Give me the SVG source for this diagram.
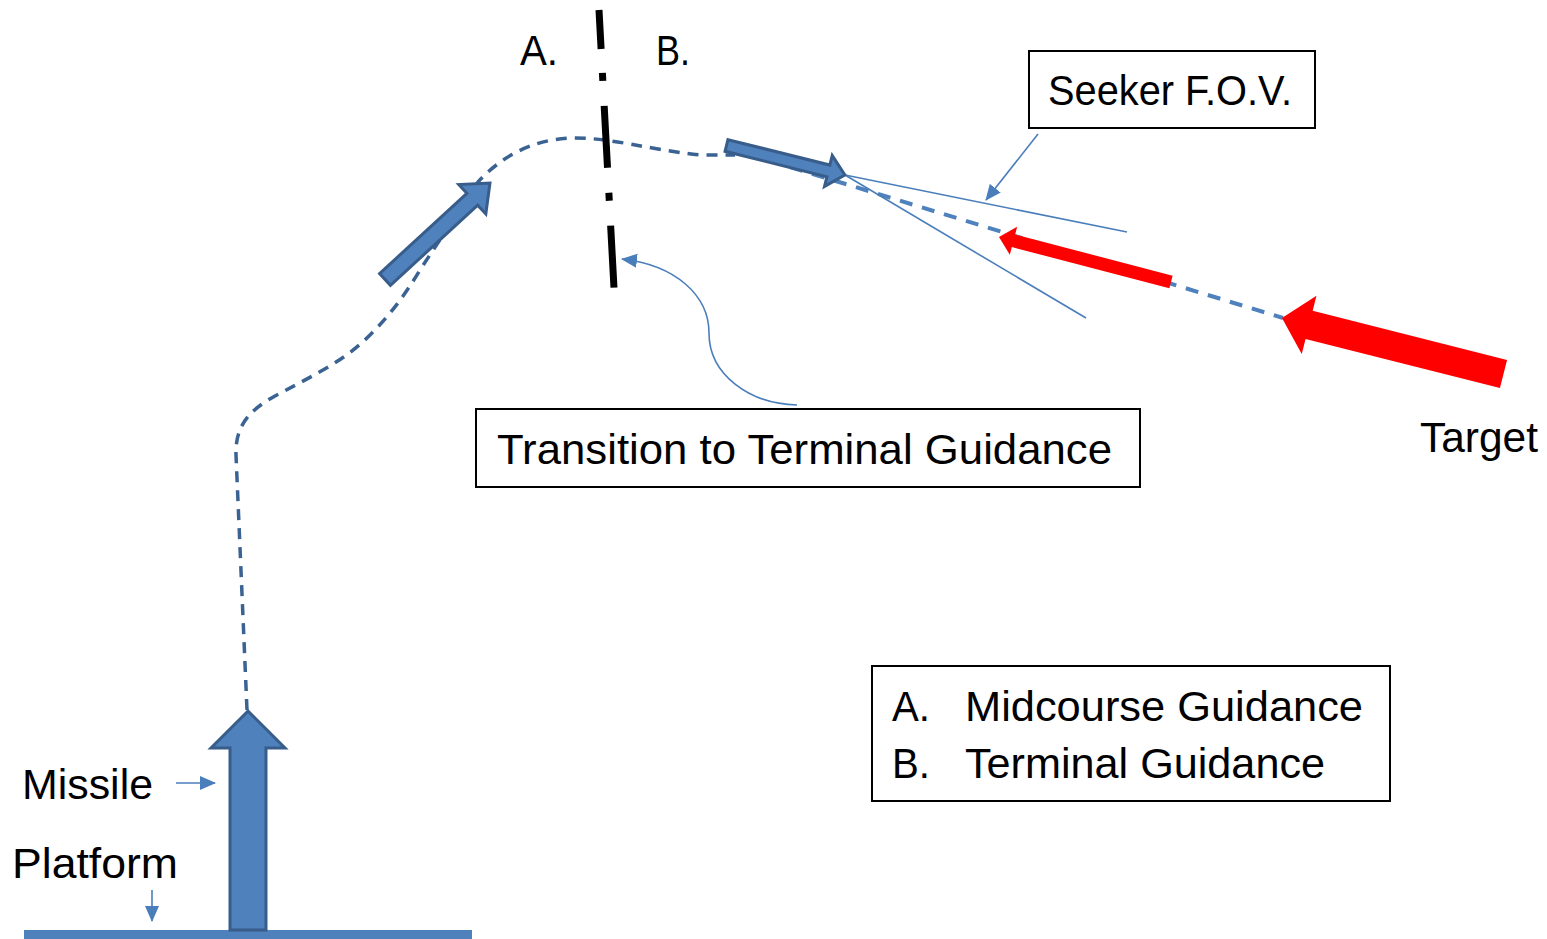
<svg xmlns="http://www.w3.org/2000/svg" width="1547" height="939" viewBox="0 0 1547 939">
<style>
text{font-family:"Liberation Sans",Arial,sans-serif;font-size:42px;fill:#000}
.box{fill:#fff;stroke:#000;stroke-width:2}
.blk{fill:#4F81BD;stroke:#385D8A;stroke-width:3;stroke-linejoin:miter}
.red{fill:#FF0000;stroke:none}
.thin{fill:none;stroke:#4A7EBB;stroke-width:1.6}
.traj{fill:none;stroke:#3A6292;stroke-width:3.5;stroke-dasharray:11 8}
.los{fill:none;stroke:#4F81BD;stroke-width:4;stroke-dasharray:13 10}
</style>
<defs>
<marker id="ah" viewBox="0 0 16 14" refX="15" refY="7" markerWidth="16" markerHeight="14" markerUnits="userSpaceOnUse" orient="auto">
<path d="M0,0 L16,7 L0,14 z" fill="#4A7EBB"/>
</marker>
</defs>

<g id="connectors">
<path class="traj" d="M247,710 L236,455 C235,425 250,410 275,396 C320,372 345,360 370,335 C390,315 405,295 420,270 L478,182 C500,158 530,140 570,138 C610,137 650,150 700,155 L735,155"/>
<line class="los" x1="790" y1="167" x2="1283" y2="318"/>
<line class="thin" x1="845" y1="175" x2="1127" y2="232"/>
<line class="thin" x1="845" y1="175" x2="1086" y2="318"/>
<line class="thin" x1="1038" y1="134" x2="986" y2="200" marker-end="url(#ah)"/>
<path class="thin" d="M797,405 C750,404 709,375 709,333 C709,295 675,265 622,259" marker-end="url(#ah)"/>
<line class="thin" x1="176" y1="783" x2="215" y2="783" marker-end="url(#ah)"/>
<line class="thin" x1="152" y1="890" x2="152" y2="921" marker-end="url(#ah)"/>
</g>

<g id="divider">
<line x1="599" y1="10" x2="614" y2="288" stroke="#000" stroke-width="7" stroke-dasharray="39 24 8 25 62 25 8 25 62"/>
<text x="520" y="65" textLength="38" lengthAdjust="spacingAndGlyphs">A.</text>
<text x="656" y="65" textLength="34" lengthAdjust="spacingAndGlyphs">B.</text>
</g>

<g id="platform">
<rect x="24" y="930" width="448" height="9" fill="#4F81BD"/>
<text x="12" y="878" textLength="166" lengthAdjust="spacingAndGlyphs">Platform</text>
</g>

<g id="missile">
<polygon class="blk" points="248,711 285,748 266,748 266,930 230,930 230,748 211,748"/>
<text x="22" y="799" textLength="131" lengthAdjust="spacingAndGlyphs">Missile</text>
</g>

<g id="missile-midcourse">
<polygon class="blk" transform="translate(385,279.5) rotate(-42.6)" points="0,-8 118.6,-8 118.6,-20 142.6,0 118.6,20 118.6,8 0,8"/>
</g>

<g id="missile-terminal">
<polygon class="blk" transform="translate(726.5,145.5) rotate(14)" points="0,-6 105,-6 105,-16 122,0 105,16 105,6 0,6"/>
</g>

<g id="target-near">
<polygon class="red" transform="translate(1171,282) rotate(194.66)" points="0,-6.5 162.8,-6.5 162.8,-14.5 177.8,0 162.8,14.5 162.8,6.5 0,6.5"/>
</g>

<g id="target">
<polygon class="red" transform="translate(1503.5,374) rotate(194.19)" points="0,-14.5 200.5,-14.5 200.5,-30 228.5,0 200.5,30 200.5,14.5 0,14.5"/>
<text x="1420" y="452" textLength="118" lengthAdjust="spacingAndGlyphs">Target</text>
</g>

<g id="seeker-fov">
<rect class="box" x="1029" y="51" width="286" height="77"/>
<text x="1048" y="105" textLength="244" lengthAdjust="spacingAndGlyphs">Seeker F.O.V.</text>
</g>

<g id="transition">
<rect class="box" x="476" y="409" width="664" height="78"/>
<text x="497" y="464" textLength="615" lengthAdjust="spacingAndGlyphs">Transition to Terminal Guidance</text>
</g>

<g id="legend">
<rect class="box" x="872" y="666" width="518" height="135"/>
<text x="892" y="721" textLength="38" lengthAdjust="spacingAndGlyphs">A.</text>
<text x="965" y="721" textLength="398" lengthAdjust="spacingAndGlyphs">Midcourse Guidance</text>
<text x="892" y="778" textLength="38" lengthAdjust="spacingAndGlyphs">B.</text>
<text x="965" y="778" textLength="360" lengthAdjust="spacingAndGlyphs">Terminal Guidance</text>
</g>
</svg>
